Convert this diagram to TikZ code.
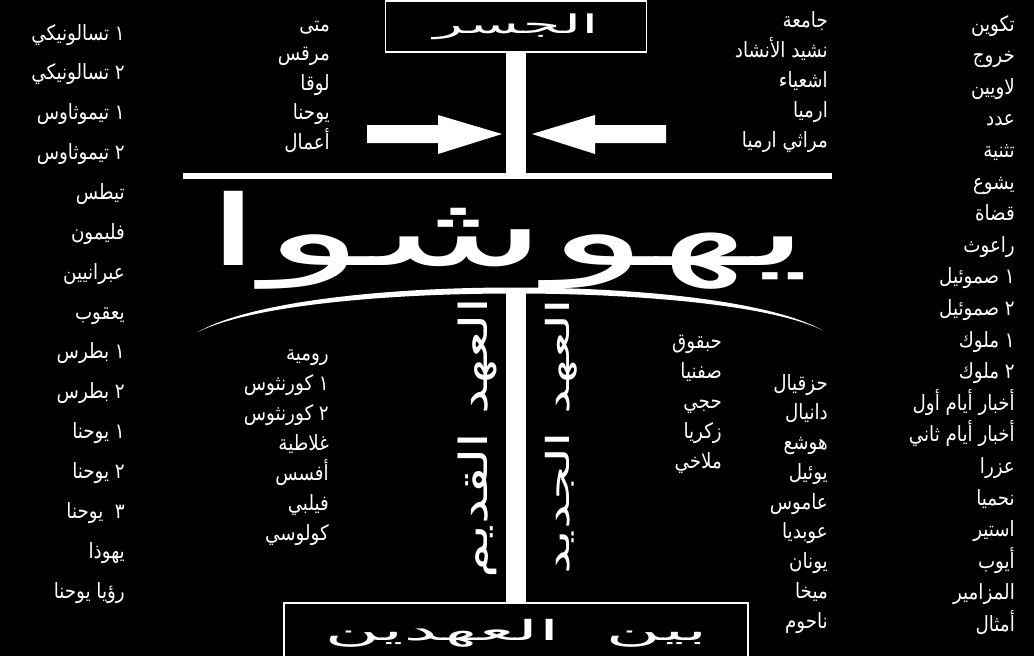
\documentclass[tikz,border=0pt]{standalone}
\usepackage{fontspec}
\usepackage{graphicx}
\TeXXeTstate=1
\newfontfamily\arabicfont[Script=Arabic]{DejaVu Sans}
\newfontfamily\arabiclista[Script=Arabic, FakeStretch=0.87]{DejaVu Sans}
\newcommand{\artxt}[1]{{\arabicfont\beginR #1\endR}}
\newcommand{\livrotxt}[1]{{\arabiclista\beginR #1\endR}}

\tikzset{
  livro/.style={anchor=base east, text=white, inner sep=0pt, font=\fontsize{21}{23}\selectfont},
  titulo/.style={text=white, inner sep=0pt},
  caixa/.style={draw=white, line width=1.5pt, fill=black, text=white, inner sep=0pt},
  barra/.style={draw=white, line width=20pt},
  seta/.style={fill=white, draw=none},
}

\begin{document}
\begin{tikzpicture}[x=1pt, y=-1pt]
      % Fundo
      \fill[black] (0,0) rectangle (1034,656);
      \useasboundingbox (0,0) rectangle (1034,656);

      % Caixas
      \node[caixa, minimum width=261pt, minimum height=51pt] (ponte) at (516,26.5) {\raisebox{-4pt}{\resizebox*{165pt}{26pt}{\artxt{الجسر}}}};
      \node[caixa, minimum width=464pt, minimum height=60pt] (entre) at (516,633) {\resizebox*{383pt}{28pt}{\artxt{بين\hspace{0.6em}العهدين}}};

      % Cruz
      \coordinate (travessa) at (516,179);
      \coordinate (arco) at (516,289);
      \draw[barra] (ponte.south) -- (travessa);
      \draw[barra] (arco) -- (entre.north);
      \draw[white, line width=6pt] (183,176) -- (832,176);

      % Arco
      \fill[white] (198,332) .. controls (300,273) and (720,273) .. (822,330)
                   .. controls (720,281) and (300,281) .. cycle;

      % Setas
      \fill[seta] (367,125) -- (438,125) -- (438,115) -- (502,134) -- (438,154) -- (438,143) -- (367,143) -- cycle;
      \fill[seta] (666,125) -- (595,125) -- (595,115) -- (532,134) -- (595,154) -- (595,143) -- (666,143) -- cycle;

      % Titulos
      \node[titulo] (nome) at (508,240) {\resizebox*{606pt}{98pt}{\artxt{يهوشوا}}};
      \node[titulo, rotate=90] (antigo) at (477,438) {\resizebox*{280pt}{39pt}{\artxt{العهد القديم}}};
      \node[titulo, rotate=90] (novo) at (561,437) {\resizebox*{275pt}{32pt}{\artxt{العهد الجديد}}};

      % Coluna da direita
      \node[livro] (d1) at (1015,31) {\livrotxt{تكوين}};
      \node[livro] (d2) at (1015,62.6) {\livrotxt{خروج}};
      \node[livro] (d3) at (1015,94.2) {\livrotxt{لاويين}};
      \node[livro] (d4) at (1015,125.8) {\livrotxt{عدد}};
      \node[livro] (d5) at (1015,157.4) {\livrotxt{تثنية}};
      \node[livro] (d6) at (1015,189) {\livrotxt{يشوع}};
      \node[livro] (d7) at (1015,220.6) {\livrotxt{قضاة}};
      \node[livro] (d8) at (1015,252.2) {\livrotxt{راعوث}};
      \node[livro] (d9) at (1015,283.8) {\livrotxt{١ صموئيل}};
      \node[livro] (d10) at (1015,315.4) {\livrotxt{٢ صموئيل}};
      \node[livro] (d11) at (1015,347) {\livrotxt{١ ملوك}};
      \node[livro] (d12) at (1015,378.6) {\livrotxt{٢ ملوك}};
      \node[livro] (d13) at (1015,410.2) {\livrotxt{أخبار أيام أول}};
      \node[livro] (d14) at (1015,441.8) {\livrotxt{أخبار أيام ثاني}};
      \node[livro] (d15) at (1015,473.4) {\livrotxt{عزرا}};
      \node[livro] (d16) at (1015,505) {\livrotxt{نحميا}};
      \node[livro] (d17) at (1015,536.6) {\livrotxt{استير}};
      \node[livro] (d18) at (1015,568.2) {\livrotxt{أيوب}};
      \node[livro] (d19) at (1015,599.8) {\livrotxt{المزامير}};
      \node[livro] (d20) at (1015,631.4) {\livrotxt{أمثال}};

      % Profetas (em cima)
      \node[livro] (p1) at (828,27) {\livrotxt{جامعة}};
      \node[livro] (p2) at (828,57) {\livrotxt{نشيد الأنشاد}};
      \node[livro] (p3) at (828,87) {\livrotxt{اشعياء}};
      \node[livro] (p4) at (828,117) {\livrotxt{ارميا}};
      \node[livro] (p5) at (828,147) {\livrotxt{مراثي ارميا}};

      % Profetas (em baixo)
      \node[livro] (q1) at (828,390) {\livrotxt{حزقيال}};
      \node[livro] (q2) at (828,419.75) {\livrotxt{دانيال}};
      \node[livro] (q3) at (828,449.5) {\livrotxt{هوشع}};
      \node[livro] (q4) at (828,479.25) {\livrotxt{يوئيل}};
      \node[livro] (q5) at (828,509) {\livrotxt{عاموس}};
      \node[livro] (q6) at (828,538.75) {\livrotxt{عوبديا}};
      \node[livro] (q7) at (828,568.5) {\livrotxt{يونان}};
      \node[livro] (q8) at (828,598.25) {\livrotxt{ميخا}};
      \node[livro] (q9) at (828,628) {\livrotxt{ناحوم}};

      \node[livro] (m1) at (722,348) {\livrotxt{حبقوق}};
      \node[livro] (m2) at (722,378) {\livrotxt{صفنيا}};
      \node[livro] (m3) at (722,408) {\livrotxt{حجي}};
      \node[livro] (m4) at (722,438) {\livrotxt{زكريا}};
      \node[livro] (m5) at (722,468) {\livrotxt{ملاخي}};

      % Evangelhos
      \node[livro] (e1) at (330,31) {\livrotxt{متى}};
      \node[livro] (e2) at (330,60.5) {\livrotxt{مرقس}};
      \node[livro] (e3) at (330,90) {\livrotxt{لوقا}};
      \node[livro] (e4) at (330,119.5) {\livrotxt{يوحنا}};
      \node[livro] (e5) at (330,149) {\livrotxt{أعمال}};

      % Cartas de Paulo
      \node[livro] (r1) at (329,360) {\livrotxt{رومية}};
      \node[livro] (r2) at (329,390) {\livrotxt{١ كورنثوس}};
      \node[livro] (r3) at (329,420) {\livrotxt{٢ كورنثوس}};
      \node[livro] (r4) at (329,450) {\livrotxt{غلاطية}};
      \node[livro] (r5) at (329,480) {\livrotxt{أفسس}};
      \node[livro] (r6) at (329,510) {\livrotxt{فيلبي}};
      \node[livro] (r7) at (329,540) {\livrotxt{كولوسي}};

      % Coluna da esquerda
      \node[livro] (s1) at (125,40) {\livrotxt{١ تسالونيكي}};
      \node[livro] (s2) at (125,79.9) {\livrotxt{٢ تسالونيكي}};
      \node[livro] (s3) at (125,119.7) {\livrotxt{١ تيموثاوس}};
      \node[livro] (s4) at (125,159.6) {\livrotxt{٢ تيموثاوس}};
      \node[livro] (s5) at (125,199.4) {\livrotxt{تيطس}};
      \node[livro] (s6) at (125,239.3) {\livrotxt{فليمون}};
      \node[livro] (s7) at (125,279.2) {\livrotxt{عبرانيين}};
      \node[livro] (s8) at (125,319) {\livrotxt{يعقوب}};
      \node[livro] (s9) at (125,358.9) {\livrotxt{١ بطرس}};
      \node[livro] (s10) at (125,398.7) {\livrotxt{٢ بطرس}};
      \node[livro] (s11) at (125,438.6) {\livrotxt{١ يوحنا}};
      \node[livro] (s12) at (125,478.5) {\livrotxt{٢ يوحنا}};
      \node[livro] (s13) at (125,518.3) {\livrotxt{٣\ \ يوحنا}};
      \node[livro] (s14) at (125,558.2) {\livrotxt{يهوذا}};
      \node[livro] (s15) at (125,598) {\livrotxt{رؤيا يوحنا}};

\end{tikzpicture}
\end{document}
